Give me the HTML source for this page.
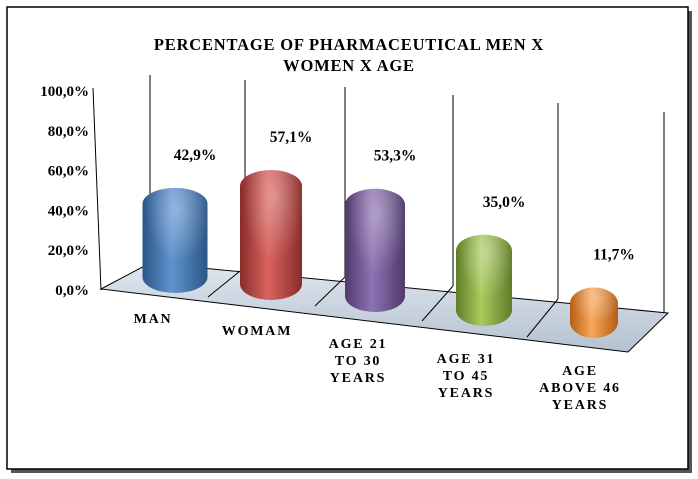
<!DOCTYPE html>
<html><head><meta charset="utf-8"><style>
body{margin:0;background:#fff;}
svg{display:block;font-family:"Liberation Serif",serif;font-weight:bold;}
</style></head><body>
<svg width="698" height="479" viewBox="0 0 698 479">
<defs>
<linearGradient id="floorG" x1="0" y1="0" x2="0" y2="1"><stop offset="0" stop-color="#dfe6ee"/><stop offset="1" stop-color="#b5c2d0"/></linearGradient>
<radialGradient id="hl" cx="0.55" cy="0.2" r="0.5"><stop offset="0" stop-color="#fff" stop-opacity="0.35"/><stop offset="1" stop-color="#fff" stop-opacity="0"/></radialGradient>
</defs>
<rect x="11" y="11" width="681" height="462" fill="#555"/>
<rect x="7" y="7" width="681" height="462" fill="#fff" stroke="#000" stroke-width="1.5"/>
<text x="349" y="50" text-anchor="middle" font-size="16.5" letter-spacing="0.8">PERCENTAGE OF PHARMACEUTICAL MEN X</text>
<text x="349" y="71" text-anchor="middle" font-size="16.5" letter-spacing="0.8">WOMEN X AGE</text>
<g id="walls"></g>
<polygon points="101,289 150,263 668,313 628,352" fill="url(#floorG)" stroke="#000" stroke-width="1"/>
<g id="floorLines"></g>
<g id="yaxis"></g>
<g id="bars"></g>
<g id="cats"></g>
</svg>
<script>
const categories=[["MAN"],["WOMAM"],["AGE  21","TO  30","YEARS"],["AGE  31","TO  45","YEARS"],["AGE","ABOVE  46","YEARS"]];
const values=[42.9,57.1,53.3,35.0,11.7];
const valueLabels=["42,9%","57,1%","53,3%","35,0%","11,7%"];
const yTicks=[0,20,40,60,80,100];
const yTickLabels=["0,0%","20,0%","40,0%","60,0%","80,0%","100,0%"];
const colors=[["#3a6ea8","#5f94cf","#2c5686"],["#b0403c","#d9645f","#8a2c29"],["#6a4f8c","#8e72b3","#4f3a6b"],["#7fa23a","#a9cb5f","#5f7c26"],["#e07a26","#f7a659","#b45d16"]];
const NS="http://www.w3.org/2000/svg";
function mk(t,a,p){const e=document.createElementNS(NS,t);for(const k in a)e.setAttribute(k,a[k]);p.appendChild(e);return e;}
function yScale(v){return 290-v*1.99;}
function hScale(v){return v*1.75;}
const ya=document.getElementById('yaxis');
yTicks.forEach((t,i)=>{const tx=mk('text',{x:89,y:yScale(t)+5,'text-anchor':'end','font-size':15},ya);tx.textContent=yTickLabels[i];

});
const walls=document.getElementById('walls');
const wx=[93,150,245,345,453,558,664],wtop=[88,75,80,87,95,103,112],wbot=[290,263,267,277,286,299,313];
for(let i=0;i<wx.length;i++){const l=mk('line',{x1:wx[i],y1:wtop[i],x2:wx[i]+(i==0?8:0),y2:wbot[i],stroke:'#000','stroke-width':1},walls);

}
const fl=document.getElementById('floorLines');
const fb=[[245,267],[345,277],[453,286],[558,299]],ff=[[208,297],[315,306],[422,321],[527,337]];
fb.forEach((b,i)=>{const l=mk('line',{x1:b[0],y1:b[1],x2:ff[i][0],y2:ff[i][1],stroke:'#000','stroke-width':1},fl);

});
const bars=document.getElementById('bars');
const cx=[175,271,375,484,594],bottom=[293,300,312,326,338],bw=[65,62,60,56,48];
const defs=document.querySelector('defs');
values.forEach((v,i)=>{
 const g=mk('linearGradient',{id:'bg'+i,x1:0,y1:0,x2:1,y2:0},defs);
 mk('stop',{offset:0,'stop-color':colors[i][2]},g);mk('stop',{offset:0.45,'stop-color':colors[i][1]},g);mk('stop',{offset:1,'stop-color':colors[i][2]},g);
 const r=bw[i]/2,ry=16,x=cx[i],bot=bottom[i],top=bot-hScale(v)-30;
 const grp=mk('g',{},bars);
 
 
 const d=`M${x-r},${top+ry} A${r},${ry} 0 0 1 ${x+r},${top+ry} L${x+r},${bot-ry} A${r},${ry} 0 0 1 ${x-r},${bot-ry}Z`;
 mk('path',{d:d,fill:'url(#bg'+i+')'},grp);
 mk('path',{d:d,fill:'url(#hl)'},grp);
 const lbl=mk('text',{x:x+20,y:top-28,'text-anchor':'middle','font-size':15.5},bars);
 lbl.textContent=valueLabels[i];
 
 
});
const cats=document.getElementById('cats');
const catX=[153,257,358,466,580],catY=[323,335,348,363,375];
categories.forEach((c,i)=>{c.forEach((line,j)=>{const t=mk('text',{x:catX[i],y:catY[i]+j*17,'text-anchor':'middle','font-size':14,'letter-spacing':1.8,'xml:space':'preserve'},cats);
t.textContent=line;

});});
</script>
</body></html>
